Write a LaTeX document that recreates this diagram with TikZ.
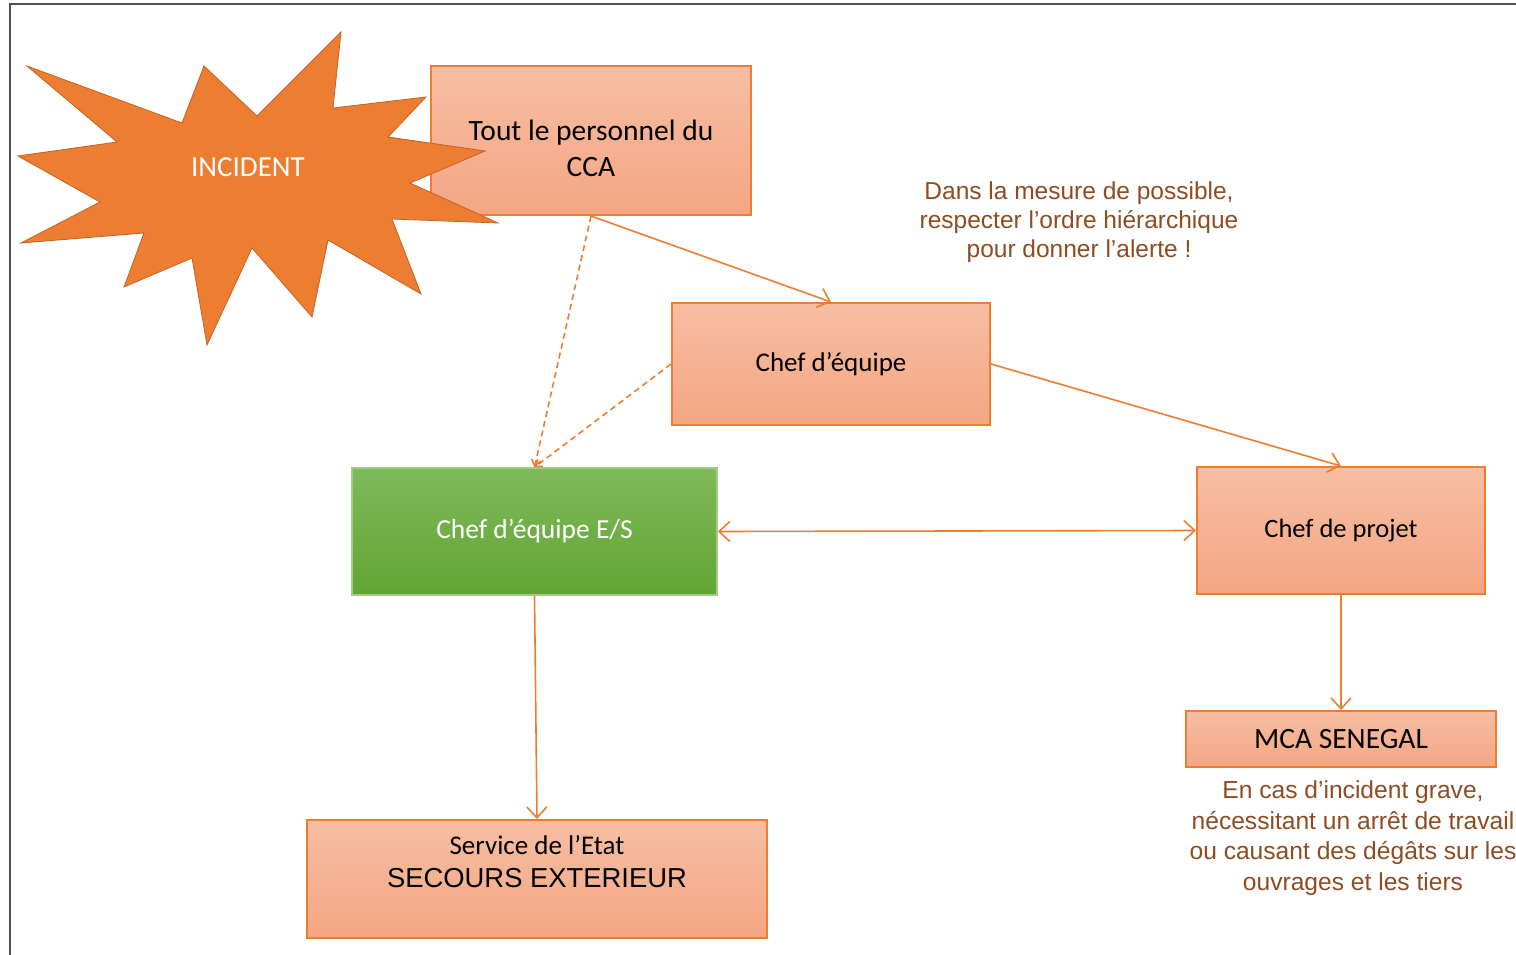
\documentclass[tikz,border=0pt]{standalone}
\usepackage{fontspec}
\setmainfont{Carlito}
\newfontfamily\arialfont{Liberation Sans}
\usetikzlibrary{arrows.meta}
\definecolor{accentorange}{RGB}{237,125,49}
\definecolor{stardark}{RGB}{196,98,36}
\definecolor{boxtop}{RGB}{246,190,163}
\definecolor{boxbottom}{RGB}{244,166,131}
\definecolor{greentop}{RGB}{126,186,90}
\definecolor{greenbottom}{RGB}{98,164,52}
\definecolor{greenedge}{RGB}{160,205,130}
\definecolor{notebrown}{RGB}{142,76,32}
\definecolor{framegray}{RGB}{80,80,80}
\tikzset{
box/.style={draw=accentorange, line width=2pt, top color=boxtop, bottom color=boxbottom, align=center, inner sep=0pt, text=black},
greenbox/.style={draw=greenedge, line width=1.5pt, top color=greentop, bottom color=greenbottom, align=center, inner sep=0pt, text=white},
link/.style={draw=accentorange, line width=1.6pt, -{Straight Barb[length=11pt,width=20pt]}},
dashlink/.style={draw=accentorange, line width=1.6pt, dash pattern=on 6pt off 4pt, -{Straight Barb[length=6pt,width=9pt]}},
note/.style={text=notebrown, align=center, inner sep=0pt}
}

\begin{document}
\begin{tikzpicture}[x=1pt,y=1pt,yscale=-1]
\useasboundingbox (0,0) rectangle (1516,955);
%frame
\draw [framegray, line width=1.5pt] (1516,4) -- (10,4) -- (10,955);

% Text Node
\node [box, minimum width=320pt, minimum height=149pt, text height=72pt, font=\fontsize{29.5}{36}\selectfont] (tout) at (591,140.5) {Tout le personnel du\\CCA};
% Text Node
\node [box, minimum width=318pt, minimum height=122pt, font=\fontsize{27}{32}\selectfont] (chefeq) at (831,364) {Chef d’équipe};
% Text Node
\node [greenbox, minimum width=365pt, minimum height=127pt, font=\fontsize{27.5}{33}\selectfont] (es) at (534.5,531.5) {Chef d’équipe E/S};
% Text Node
\node [box, minimum width=288pt, minimum height=127pt, font=\fontsize{26.5}{32}\selectfont] (projet) at (1341,530.5) {Chef de projet};
% Text Node
\node [box, minimum width=310pt, minimum height=56pt, font=\fontsize{29.5}{36}\selectfont] (mca) at (1341,739) {MCA SENEGAL};
% Text Node
\node [box, minimum width=460pt, minimum height=118pt, text depth=36pt, font=\fontsize{27}{33}\selectfont] (service) at (537,879) {Service de l’Etat\\{\arialfont\fontsize{27.4}{33}\selectfont SECOURS EXTERIEUR}};

%Star
\draw [stardark, line width=0.8pt, fill=accentorange] (27,66) -- (182,123) -- (204,66) -- (257,116) -- (341,32) -- (333,108) -- (426,97) -- (388,137) -- (485,151) -- (410,183) -- (498,223) -- (392,219) -- (421,294) -- (328,240) -- (312,317) -- (252,248) -- (207,345) -- (192,258) -- (124,287) -- (144,233) -- (21,243) -- (100,202) -- (18,156) -- (117,142) -- cycle;
\node [text=white, font=\fontsize{29}{35}\selectfont] (incident) at (248,167) {INCIDENT};

% Notes
\node [note, font=\arialfont\fontsize{24.5}{29}\selectfont] (alerte) at (1079,222) {Dans la mesure de possible,\\respecter l’ordre hiérarchique\\pour donner l’alerte !};
\node [note, font=\arialfont\fontsize{24.6}{30.5}\selectfont] (grave) at (1353,838) {En cas d’incident grave,\\nécessitant un arrêt de travail\\ou causant des dégâts sur les\\ouvrages et les tiers};

%Straight Lines
\draw [link] (tout.south) -- (chefeq.north);
\draw [dashlink] (tout.south) -- (es.north);
\draw [dashlink] (chefeq.west) -- (es.north);
\draw [link] (chefeq.east) -- (projet.north);
\draw [link, {Straight Barb[length=11pt,width=20pt]}-{Straight Barb[length=11pt,width=20pt]}] (es.east) -- (projet.west);
\draw [link] (es.south) -- (service.north);
\draw [link] (projet.south) -- (mca.north);

\end{tikzpicture}
\end{document}
